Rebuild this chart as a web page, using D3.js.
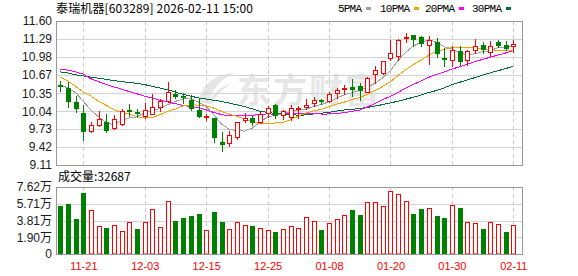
<!DOCTYPE html>
<html>
<head>
<meta charset="utf-8">
<script src="https://cdn.jsdelivr.net/npm/d3@7"></script>
<style>
  body { margin: 0; background: #fff; }
  svg { display: block; }
</style>
</head>
<body>
<div id="chart"></div>
<script>
// data
const dates = ["11-18","11-19","11-20","11-21","11-24","11-25","11-26","11-27","11-28","12-01",
  "12-02","12-03","12-04","12-05","12-08","12-09","12-10","12-11","12-12","12-15",
  "12-16","12-17","12-18","12-19","12-22","12-23","12-24","12-25","12-26","12-29",
  "12-30","12-31","01-05","01-06","01-07","01-08","01-09","01-12","01-13","01-14",
  "01-15","01-16","01-19","01-20","01-21","01-22","01-23","01-26","01-27","01-28",
  "01-29","01-30","02-02","02-03","02-04","02-05","02-06","02-09","02-10","02-11"];
const open  = [10.50,10.45,10.20,10.01,9.70,9.81,9.85,9.75,9.82,10.06,
  10.03,9.95,10.00,10.12,10.22,10.33,10.30,10.23,10.06,9.94,
  9.92,9.50,9.49,9.60,9.88,9.92,9.86,10.01,10.14,9.98,
  9.94,10.08,10.11,10.18,10.23,10.21,10.35,10.42,10.46,10.48,
  10.38,10.68,10.70,10.96,10.99,11.31,11.35,11.32,11.19,11.24,
  10.96,10.93,11.08,10.93,11.09,11.19,11.06,11.23,11.19,11.17];
const high  = [10.56,10.54,10.30,10.14,9.85,10.04,9.99,9.97,10.07,10.16,
  10.07,10.18,10.33,10.25,10.55,10.40,10.36,10.32,10.27,10.00,
  9.93,9.68,9.69,9.86,10.01,9.96,10.03,10.13,10.17,10.06,
  10.14,10.13,10.25,10.28,10.25,10.37,10.44,10.49,10.59,10.53,
  10.63,10.82,10.91,11.27,11.29,11.39,11.35,11.34,11.34,11.31,
  11.13,11.16,11.16,11.10,11.29,11.24,11.25,11.28,11.25,11.28];
const low   = [10.39,10.11,10.02,9.55,9.68,9.78,9.68,9.74,9.81,9.95,
  9.94,9.93,9.99,10.05,10.20,10.27,10.18,10.06,9.94,9.89,
  9.51,9.35,9.44,9.56,9.86,9.81,9.83,9.94,9.92,9.91,
  9.88,9.92,10.07,10.13,10.16,10.20,10.26,10.33,10.31,10.24,
  10.37,10.53,10.69,10.93,10.93,11.23,11.16,11.16,10.86,10.97,
  10.82,10.82,10.84,10.84,11.05,11.05,10.99,11.15,11.10,11.06];
const close = [10.48,10.21,10.10,9.69,9.80,9.91,9.72,9.91,10.04,10.04,
  10.01,10.06,10.11,10.21,10.37,10.30,10.28,10.10,9.95,9.96,
  9.60,9.48,9.63,9.85,9.92,9.86,9.99,10.09,9.98,10.04,
  10.09,10.10,10.15,10.23,10.21,10.33,10.41,10.44,10.42,10.40,
  10.61,10.76,10.90,11.05,11.28,11.32,11.29,11.22,11.28,11.05,
  10.94,11.09,10.90,11.08,11.16,11.12,11.16,11.19,11.13,11.20];
const volume = [54400,56700,39800,69100,49500,31500,29300,32700,25900,36000,
  28200,36000,50700,30400,60800,37500,40900,43200,45800,27000,
  47700,36400,28200,36000,32700,31900,29300,27000,25200,28200,
  31500,29300,41700,37200,27400,34900,39400,43900,49900,44300,
  59700,58600,54100,71300,67900,60100,45800,51100,52200,43200,
  40900,55600,52200,36400,35300,28500,36400,34200,25200,32687];
const ma5  = [10.50,10.44,10.36,10.21,10.056,9.942,9.844,9.806,9.876,9.924,
  9.944,10.012,10.052,10.086,10.152,10.21,10.254,10.252,10.20,10.118,
  9.978,9.818,9.724,9.704,9.696,9.748,9.85,9.942,9.968,9.992,
  10.038,10.06,10.072,10.122,10.156,10.204,10.266,10.324,10.362,10.40,
  10.456,10.526,10.618,10.744,10.92,11.062,11.168,11.232,11.278,11.232,
  11.156,11.116,11.052,11.012,11.034,11.07,11.084,11.142,11.152,11.16];
const ma10 = [10.63,10.56,10.47,10.37,10.30,10.21,10.14,10.07,10.01,9.99,
  9.943,9.928,9.929,9.981,10.038,10.077,10.133,10.152,10.143,10.135,
  10.094,10.036,9.988,9.952,9.907,9.863,9.834,9.833,9.836,9.844,
  9.893,9.955,10.007,10.045,10.074,10.121,10.163,10.198,10.242,10.278,
  10.33,10.396,10.471,10.553,10.66,10.759,10.847,10.925,11.011,11.076,
  11.109,11.142,11.142,11.145,11.133,11.113,11.10,11.097,11.082,11.097];
const ma20 = [10.77,10.75,10.72,10.68,10.60,10.55,10.50,10.46,10.42,10.38,
  10.34,10.30,10.27,10.23,10.20,10.17,10.14,10.12,10.10,10.063,
  10.019,9.982,9.959,9.967,9.973,9.97,9.984,9.993,9.99,9.99,
  9.994,9.996,9.998,9.999,9.991,9.992,9.999,10.016,10.039,10.061,
  10.112,10.176,10.239,10.299,10.367,10.44,10.505,10.562,10.627,10.677,
  10.72,10.769,10.807,10.849,10.897,10.936,10.974,11.011,11.047,11.087];
const ma30 = [10.72,10.70,10.67,10.65,10.63,10.61,10.59,10.57,10.55,10.54,
  10.52,10.50,10.47,10.44,10.41,10.37,10.33,10.30,10.27,10.25,
  10.23,10.21,10.18,10.15,10.12,10.08,10.04,10.02,10.00,9.99,
  9.977,9.973,9.975,9.993,10.006,10.02,10.043,10.061,10.074,10.086,
  10.106,10.129,10.155,10.183,10.214,10.248,10.281,10.319,10.363,10.399,
  10.444,10.498,10.54,10.581,10.622,10.664,10.703,10.74,10.778,10.817];

const priceTicks = [9.11, 9.42, 9.73, 10.04, 10.35, 10.67, 10.98, 11.29, 11.60];
const volTicks = [0, 19000, 38100, 57100, 76200];
const volTickLabels = ["0", "1.90万", "3.81万", "5.71万", "7.62万"];
const dateTicks = ["11-21","12-03","12-15","12-25","01-08","01-20","01-30","02-11"];
const maNames = ["5PMA", "10PMA", "20PMA", "30PMA"];
const maColors = ["#a0a0a0", "#f5a200", "#ff00ff", "#006e3a"];

const UP = "#ff0000", DOWN = "#008000";
const W = 578, H = 276;
const left = 56, right = 522;
const pTop = 21, pBot = 165;   // price panel
const vTop = 187, vBot = 254;  // volume panel

const svg = d3.select("#chart").append("svg")
    .attr("width", W).attr("height", H)
    .style("font-family", "'Liberation Sans', Arial, 'Noto Sans CJK SC', sans-serif");

const x = d3.scalePoint().domain(dates).range([60.3, 513.3]);
const y = d3.scaleLinear().domain([9.11, 11.60]).range([pBot, pTop]);
const yv = d3.scaleLinear().domain([0, 76200]).range([vBot, vTop]);
const px = d => Math.round(x(d));

// watermark
const wm = svg.append("g").attr("fill", "#e6e6e6");
wm.append("path").attr("d", "M199,103 C200,86 214,74 234,73 C222,79 213,88 209,101 C214,92 222,86 230,84 C220,92 214,98 212,104 Z");
wm.append("text").attr("x", 237).attr("y", 103)
    .style("font-family", "'Noto Sans CJK SC'").style("font-weight", "bold")
    .style("font-size", "34px").attr("textLength", 142).text("东方财富");

// grid lines
function grid(yTop, yBot, yVals, ys) {
  svg.append("g").selectAll("line").data(yVals).join("line")
      .attr("x1", left).attr("x2", right)
      .attr("y1", d => Math.round(ys(d)) + 0.5).attr("y2", d => Math.round(ys(d)) + 0.5)
      .attr("stroke", "#d3d3d3");
  svg.append("g").selectAll("line").data(dateTicks).join("line")
      .attr("x1", d => px(d) + 0.5).attr("x2", d => px(d) + 0.5)
      .attr("y1", yTop).attr("y2", yBot)
      .attr("stroke", "#cccccc").attr("stroke-dasharray", "4,3");
}
grid(pTop, pBot, priceTicks.slice(1, -1), y);
grid(vTop, vBot, volTicks.slice(1, -1), yv);

// MA lines
const mas = [ma5, ma10, ma20, ma30];
mas.slice().reverse().forEach(function(m, k) {
  const c = maColors[3 - k];
  svg.append("path")
      .datum(m)
      .attr("fill", "none").attr("stroke", c).attr("stroke-width", 1)
      .attr("shape-rendering", "crispEdges")
      .attr("d", d3.line().x((d, i) => x(dates[i])).y(d => y(d)));
});

// candles
const candles = svg.append("g").selectAll("g").data(dates).join("g");
candles.append("line")
    .attr("x1", d => px(d) + 0.5).attr("x2", d => px(d) + 0.5)
    .attr("y1", (d, i) => Math.round(y(high[i]))).attr("y2", (d, i) => Math.round(y(low[i])) + 1)
    .attr("stroke", (d, i) => close[i] >= open[i] ? UP : DOWN);
candles.append("rect")
    .attr("x", (d, i) => close[i] >= open[i] ? px(d) - 1.5 : px(d) - 2)
    .attr("y", (d, i) => {
      const t = Math.round(y(Math.max(open[i], close[i])));
      return close[i] >= open[i] ? t + 0.5 : t;
    })
    .attr("width", (d, i) => close[i] >= open[i] ? 4 : 5)
    .attr("height", (d, i) => {
      const h = Math.max(1, Math.round(y(Math.min(open[i], close[i]))) - Math.round(y(Math.max(open[i], close[i]))));
      return close[i] >= open[i] ? h : h + 1;
    })
    .attr("fill", (d, i) => close[i] >= open[i] ? "#fff" : DOWN)
    .attr("stroke", (d, i) => close[i] >= open[i] ? UP : "none");

// volume bars, coloured by change against previous close
const volUp = (i) => i === 0 ? close[0] >= open[0] : close[i] >= close[i - 1];
svg.append("g").selectAll("rect").data(dates).join("rect")
    .attr("x", (d, i) => volUp(i) ? px(d) - 1.5 : px(d) - 2)
    .attr("y", (d, i) => Math.round(yv(volume[i])) + (volUp(i) ? 0.5 : 0))
    .attr("width", (d, i) => volUp(i) ? 4 : 5)
    .attr("height", (d, i) => vBot - Math.round(yv(volume[i])) - (volUp(i) ? 0.5 : 0))
    .attr("fill", (d, i) => volUp(i) ? "#fff" : DOWN)
    .attr("stroke", (d, i) => volUp(i) ? UP : "none");

// frames
[[pTop, pBot], [vTop, vBot]].forEach(function(p) {
  svg.append("rect")
      .attr("x", left + 0.5).attr("y", p[0] + 0.5)
      .attr("width", right - left).attr("height", p[1] - p[0])
      .attr("fill", "none").attr("stroke", "#999");
});

// axes
const yAxis = svg.append("g")
    .attr("transform", `translate(${left},0)`)
    .call(d3.axisLeft(y).tickValues(priceTicks).tickSize(0).tickPadding(4)
      .tickFormat(d3.format(".2f")));
const vAxis = svg.append("g")
    .attr("transform", `translate(${left},0)`)
    .call(d3.axisLeft(yv).tickValues(volTicks).tickSize(0).tickPadding(4)
      .tickFormat((d, i) => volTickLabels[i]));
[yAxis, vAxis].forEach(function(a) {
  a.select(".domain").remove();
  a.selectAll("text").style("font-size", "12px").attr("fill", "#1a1a1a")
      .style("font-family", "'Liberation Sans', Arial, 'Noto Sans CJK SC', sans-serif");
});

const xAxis = svg.append("g")
    .attr("transform", `translate(0,${vBot})`)
    .call(d3.axisBottom(x).tickValues(dateTicks).tickSize(0).tickPadding(8));
xAxis.select(".domain").remove();
xAxis.selectAll("text").style("font-size", "11px").attr("fill", "#ff0000")
    .style("font-family", "'Liberation Sans', Arial, sans-serif");

// title, legend, volume label
svg.append("text").attr("x", 56).attr("y", 13)
    .style("font-family", "'Noto Sans CJK SC', sans-serif").style("font-size", "12px")
    .attr("textLength", 197).attr("fill", "#000")
    .text("泰瑞机器[603289] 2026-02-11 15:00");

const legX = [338, 380, 425, 472];
const legW = [24, 30, 30, 30];
const leg = svg.append("g").selectAll("g").data(maNames).join("g");
leg.append("text")
    .attr("x", (d, i) => legX[i]).attr("y", 12)
    .attr("textLength", (d, i) => legW[i])
    .style("font-family", "'Liberation Mono', 'DejaVu Sans Mono', monospace").style("font-size", "11px")
    .attr("fill", "#000").text(d => d);
leg.append("rect")
    .attr("x", (d, i) => legX[i] + legW[i] + 4).attr("y", 7)
    .attr("width", 5).attr("height", 3)
    .attr("fill", (d, i) => maColors[i]);

svg.append("text").attr("x", 58).attr("y", 181)
    .style("font-family", "'Noto Sans CJK SC', sans-serif").style("font-size", "12px")
    .attr("fill", "#000")
    .text("成交量:" + volume[volume.length - 1]);
</script>
</body>
</html>
